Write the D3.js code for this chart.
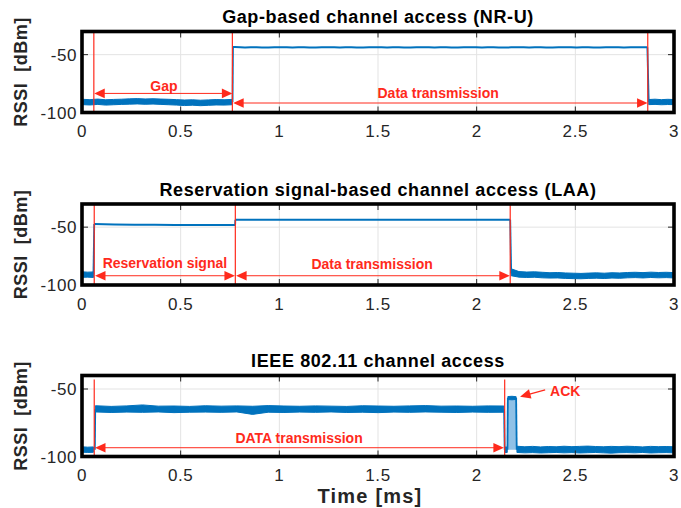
<!DOCTYPE html>
<html><head><meta charset="utf-8">
<script src="https://cdn.jsdelivr.net/npm/d3@7"></script>
<style>
body{margin:0;background:#fff}
svg{display:block;font-family:"Liberation Sans",Arial,Helvetica,sans-serif}
</style>
</head><body>
<svg id="chart" width="681" height="508"></svg>
<script>
// ---------- shared axis data ----------
const xTicks = [0, 0.5, 1, 1.5, 2, 2.5, 3];
const xTickLabels = ["0", "0.5", "1", "1.5", "2", "2.5", "3"];
const yTicks = [-50, -100];
const yTickLabels = ["-50", "-100"];
const titles = ["Gap-based channel access (NR-U)",
                "Reservation signal-based channel access (LAA)",
                "IEEE 802.11 channel access"];
const yDomains = [[-100, -30], [-100, -30], [-100, -40]];
const xLabel = "Time [ms]";
const yLabel = "RSSI  [dBm]";

// ---------- panel 1 : NR-U ----------
const nruNoise = [
  {t0: 0, t1: 0.76,
   hi: [-88.6,-88.9,-88.4,-89.0,-88.7,-88.5,-88.2,-88.0,-88.3,-88.1,-88.4,-88.6,-88.9,-89.2,-89.0,-89.4,-89.1,-88.8,-89.0,-88.7],
   lo: [-93.2,-93.5,-93.0,-93.6,-93.3,-93.0,-92.8,-92.6,-92.9,-92.7,-93.0,-93.3,-93.6,-94.0,-93.7,-94.1,-93.8,-93.5,-93.6,-93.3]},
  {t0: 2.872, t1: 3,
   hi: [-88.8,-88.5,-88.9,-88.6,-88.8],
   lo: [-93.2,-93.0,-93.3,-93.1,-93.2]}
];
const nruLevels = [
  {t0: 0.765, t1: 2.865,
   v: [-43.4,-43.9,-43.5,-44.0,-43.4,-43.9,-43.5,-44.0,-43.4,-43.9,-43.5,-44.0,-43.4,-43.9,-43.5,-44.0,-43.4,-43.9,
       -43.5,-44.0,-43.4,-43.9,-43.5,-44.0,-43.4,-43.9,-43.5,-44.0,-43.4,-43.9,-43.5,-44.0,-43.4,-43.9,-43.5,-43.7]}
];
const nruSteps = [[[0.763, -91], [0.765, -43.5]], [[2.865, -43.7], [2.872, -91]]];
const nruMarkers = [0.06, 0.762, 2.867];
const nruArrows = [{t0: 0.062, t1: 0.762, v: -83.5}, {t0: 0.766, t1: 2.866, v: -91.8}];
const nruLabels = [{text: "Gap", t: 0.415, v: -81.4, anchor: "middle"},
                   {text: "Data transmission", t: 1.805, v: -87.7, anchor: "middle"}];

// ---------- panel 2 : LAA ----------
const laaNoise = [
  {t0: 0, t1: 0.058, hi: [-88.6,-88.9,-88.7], lo: [-93.4,-93.2,-93.5]},
  {t0: 2.175, t1: 3,
   hi: [-86.0,-88.4,-88.8,-88.6,-89.0,-89.4,-89.2,-89.6,-89.8,-90.0,-89.7,-89.5,-89.8,-89.4,-89.6,-89.2,-89.0,-89.3,-88.9,-89.2,-89.0,-89.3],
   lo: [-92.0,-93.2,-93.5,-93.3,-93.8,-94.0,-93.9,-94.3,-94.5,-94.6,-94.3,-94.1,-94.4,-94.0,-94.2,-93.8,-93.6,-93.9,-93.5,-93.8,-93.6,-93.9]}
];
const laaLevels = [
  {t0: 0.062, t1: 0.776, v: [-47.3,-47.7,-47.9,-48.0,-48.1,-48.1,-48.2,-48.2]},
  {t0: 0.777, t1: 2.17, v: [-43.6,-43.6]}
];
const laaSteps = [[[0.058, -91], [0.062, -47.3]], [[0.776, -48.2], [0.777, -43.6]], [[2.17, -43.6], [2.175, -90]]];
const laaMarkers = [0.062, 0.777, 2.17];
const laaArrows = [{t0: 0.066, t1: 0.775, v: -92}, {t0: 0.781, t1: 2.168, v: -92}];
const laaLabels = [{text: "Reservation signal", t: 0.42, v: -85.5, anchor: "middle"},
                   {text: "Data transmission", t: 1.47, v: -86.5, anchor: "middle"}];

// ---------- panel 3 : IEEE 802.11 ----------
const wifiNoise = [
  {t0: 0, t1: 0.058, hi: [-92.8,-93.1,-92.9], lo: [-96.8,-97.0,-96.9]},
  {t0: 0.068, t1: 2.138,
   hi: [-62.4,-62.9,-62.5,-61.8,-62.7,-62.6,-62.9,-62.4,-62.7,-62.5,-62.8,-62.3,-62.6,-62.8,-62.5,-62.7,-62.9,-62.4,-62.6,-62.8,-62.5,-62.3,-62.7,-62.6,-62.8,-62.5,-62.6],
   lo: [-67.0,-67.4,-67.1,-67.3,-67.0,-67.5,-67.2,-67.1,-67.3,-67.0,-68.8,-67.2,-67.4,-67.1,-67.3,-67.0,-67.4,-67.2,-67.5,-67.1,-67.3,-67.0,-67.2,-67.4,-67.1,-67.3,-67.2]},
  {t0: 2.142, t1: 2.155, hi: [-93.0,-93.0], lo: [-97.0,-97.0]},
  {t0: 2.158, t1: 2.2, hi: [-55.6,-55.4,-55.7], lo: [-57.8,-58.0,-57.7]},
  {t0: 2.204, t1: 3,
   hi: [-92.4,-92.8,-92.5,-92.9,-92.6,-92.8,-92.4,-92.7,-92.5,-92.3,-92.6,-92.8,-92.5,-92.7,-92.4,-92.6,-92.9,-92.5,-92.7,-92.6,-92.8],
   lo: [-97.0,-97.3,-97.1,-97.4,-97.2,-97.0,-97.3,-97.1,-97.4,-97.2,-97.0,-97.3,-97.5,-97.2,-97.1,-97.3,-97.0,-97.4,-97.2,-97.1,-97.3]}
];
const wifiLevels = [];
const wifiSteps = [[[0.065, -95], [0.067, -65]], [[2.139, -65], [2.142, -95]],
                   [[2.156, -95], [2.158, -56.7]], [[2.2, -56.7], [2.203, -95]]];
const wifiAckFill = [{t0: 2.158, t1: 2.2, top: -56.7, bottom: -95}];
const wifiMarkers = [0.062, 2.142];
const wifiMarkerTop = -43;
const wifiArrows = [{t0: 0.066, t1: 2.138, v: -93.5}];
const wifiAckArrow = {from: [2.347, -50.7], to: [2.22, -55.7]};
const wifiLabels = [{text: "DATA transmission", t: 1.1, v: -89.8, anchor: "middle"},
                    {text: "ACK", t: 2.372, v: -55.4, anchor: "start"}];

// ---------- layout ----------
const X0 = 82, X1 = 674;
const panelTops = [31.5, 204, 375.5];
const panelH = 81;
const BLUE = "#0072BD", RED = "#FF2A1C", LIGHTBLUE = "#8FC1E6";

const panels = [
  {noise: nruNoise, levels: nruLevels, steps: nruSteps, markers: nruMarkers, markerTop: null,
   arrows: nruArrows, labels: nruLabels, ack: null, fill: [], smooth: true},
  {noise: laaNoise, levels: laaLevels, steps: laaSteps, markers: laaMarkers, markerTop: null,
   arrows: laaArrows, labels: laaLabels, ack: null, fill: [], smooth: false},
  {noise: wifiNoise, levels: wifiLevels, steps: wifiSteps, markers: wifiMarkers, markerTop: wifiMarkerTop,
   arrows: wifiArrows, labels: wifiLabels, ack: wifiAckArrow, fill: wifiAckFill, smooth: false}
];

const svg = d3.select("#chart");
const x = d3.scaleLinear().domain([0, 3]).range([X0, X1]);

function arrowHead(g, tipX, tipY, dirX, dirY) {
  const L = 10.5, Wd = 4.8;
  const len = Math.hypot(dirX, dirY);
  const ux = dirX / len, uy = dirY / len;
  const bx = tipX - ux * L, by = tipY - uy * L;
  const px = -uy * Wd, py = ux * Wd;
  g.append("path")
    .attr("d", `M${tipX},${tipY}L${bx + px},${by + py}L${bx - px},${by - py}Z`)
    .attr("fill", RED);
}

panels.forEach((p, i) => {
  const top = panelTops[i], bottom = top + panelH;
  const y = d3.scaleLinear().domain(yDomains[i]).range([bottom, top]);
  const g = svg.append("g");
  const clipId = "clip" + i;
  svg.append("clipPath").attr("id", clipId).append("rect")
    .attr("x", X0).attr("y", top).attr("width", X1 - X0).attr("height", panelH);

  // grid
  g.append("g").selectAll("line").data(xTicks.slice(1, -1)).join("line")
    .attr("x1", d => x(d)).attr("x2", d => x(d)).attr("y1", top).attr("y2", bottom)
    .attr("stroke", "#e3e3e3").attr("stroke-width", 1);
  g.append("g").selectAll("line").data(yTicks.filter(v => v > yDomains[i][0])).join("line")
    .attr("x1", X0).attr("x2", X1).attr("y1", d => y(d)).attr("y2", d => y(d))
    .attr("stroke", "#e3e3e3").attr("stroke-width", 1);

  const dg = g.append("g").attr("clip-path", `url(#${clipId})`);

  // light fill (ACK)
  p.fill.forEach(f => {
    const area = d3.area().x(d => x(d[0])).y0(d => y(d[1])).y1(d => y(d[2]));
    dg.append("path").datum([[f.t0, f.bottom, f.top], [f.t1, f.bottom, f.top]])
      .attr("d", area).attr("fill", LIGHTBLUE);
  });

  // steps
  const line = d3.line().x(d => x(d[0])).y(d => y(d[1]));
  p.steps.forEach(s => {
    dg.append("path").datum(s).attr("d", line)
      .attr("fill", "none").attr("stroke", BLUE).attr("stroke-width", 1.8);
  });

  // noise bands
  p.noise.forEach(seg => {
    const n = seg.hi.length;
    const pts = seg.hi.map((h, k) => [seg.t0 + (seg.t1 - seg.t0) * k / (n - 1), seg.lo[k], h]);
    const area = d3.area().x(d => x(d[0])).y0(d => y(d[1])).y1(d => y(d[2]));
    dg.append("path").datum(pts).attr("d", area)
      .attr("fill", BLUE).attr("stroke", BLUE).attr("stroke-width", 1).attr("stroke-linejoin", "round");
  });

  // level lines
  p.levels.forEach(seg => {
    const n = seg.v.length;
    const pts = seg.v.map((v, k) => [seg.t0 + (seg.t1 - seg.t0) * k / (n - 1), v]);
    const ln = d3.line().x(d => x(d[0])).y(d => y(d[1]))
      .curve(p.smooth ? d3.curveBasis : d3.curveLinear);
    dg.append("path").datum(pts).attr("d", ln)
      .attr("fill", "none").attr("stroke", BLUE).attr("stroke-width", 2);
  });

  // red markers
  g.append("g").selectAll("line").data(p.markers).join("line")
    .attr("x1", d => x(d)).attr("x2", d => x(d))
    .attr("y1", p.markerTop === null ? top : y(p.markerTop)).attr("y2", bottom)
    .attr("stroke", RED).attr("stroke-width", 1.2);

  // arrows (double headed)
  p.arrows.forEach(a => {
    const ya = y(a.v), xa = x(a.t0), xb = x(a.t1);
    g.append("line").attr("x1", xa + 8).attr("x2", xb - 8).attr("y1", ya).attr("y2", ya)
      .attr("stroke", RED).attr("stroke-width", 1);
    arrowHead(g, xa, ya, -1, 0);
    arrowHead(g, xb, ya, 1, 0);
  });
  if (p.ack) {
    const fx = x(p.ack.from[0]), fy = y(p.ack.from[1]);
    const tx = x(p.ack.to[0]), ty = y(p.ack.to[1]);
    const ddx = tx - fx, ddy = ty - fy, dl = Math.hypot(ddx, ddy);
    g.append("line").attr("x1", fx).attr("y1", fy)
      .attr("x2", tx - ddx / dl * 8).attr("y2", ty - ddy / dl * 8)
      .attr("stroke", RED).attr("stroke-width", 1.2);
    arrowHead(g, tx, ty, ddx, ddy);
  }

  // labels
  g.append("g").selectAll("text").data(p.labels).join("text")
    .attr("x", d => x(d.t)).attr("y", d => y(d.v))
    .attr("text-anchor", d => d.anchor)
    .attr("fill", RED).attr("font-size", 14).attr("font-weight", "bold")
    .text(d => d.text);

  // ticks (inward, all sides)
  const tk = g.append("g").attr("stroke", "#262626").attr("stroke-width", 1);
  xTicks.slice(1, -1).forEach(t => {
    tk.append("line").attr("x1", x(t)).attr("x2", x(t)).attr("y1", bottom).attr("y2", bottom - 6);
    tk.append("line").attr("x1", x(t)).attr("x2", x(t)).attr("y1", top).attr("y2", top + 6);
  });
  yTicks.filter(v => v > yDomains[i][0]).forEach(v => {
    tk.append("line").attr("x1", X0).attr("x2", X0 + 6).attr("y1", y(v)).attr("y2", y(v));
    tk.append("line").attr("x1", X1).attr("x2", X1 - 6).attr("y1", y(v)).attr("y2", y(v));
  });

  // box
  g.append("rect").attr("x", X0).attr("y", top).attr("width", X1 - X0).attr("height", panelH)
    .attr("fill", "none").attr("stroke", "#000").attr("stroke-width", 3.6);

  // tick labels
  g.append("g").selectAll("text").data(xTicks).join("text")
    .attr("x", d => x(d)).attr("y", bottom + 24.5)
    .attr("text-anchor", "middle").attr("font-size", 17).attr("letter-spacing", 0.6)
    .attr("fill", "#262626")
    .text((d, k) => xTickLabels[k]);
  g.append("g").selectAll("text").data(yTicks).join("text")
    .attr("x", X0 - 5).attr("y", d => y(d)).attr("dy", "0.36em")
    .attr("text-anchor", "end").attr("font-size", 17).attr("letter-spacing", 0.6)
    .attr("fill", "#262626")
    .text((d, k) => yTickLabels[k]);

  // title
  g.append("text").attr("x", 378).attr("y", top - 8.5)
    .attr("text-anchor", "middle").attr("font-size", 18).attr("font-weight", "bold")
    .attr("letter-spacing", 0.6).attr("fill", "#000")
    .text(titles[i]);

  // y label
  g.append("text").attr("transform", `translate(27,${(top + bottom) / 2}) rotate(-90)`)
    .attr("text-anchor", "middle").attr("font-size", 18).attr("font-weight", "bold")
    .attr("letter-spacing", 0.5).attr("fill", "#262626").attr("xml:space", "preserve")
    .style("white-space", "pre")
    .text(yLabel);
});

// x label
svg.append("text").attr("x", 370).attr("y", 503)
  .attr("text-anchor", "middle").attr("font-size", 20).attr("font-weight", "bold")
  .attr("letter-spacing", 1.2).attr("fill", "#262626")
  .text(xLabel);
</script>
</body></html>
